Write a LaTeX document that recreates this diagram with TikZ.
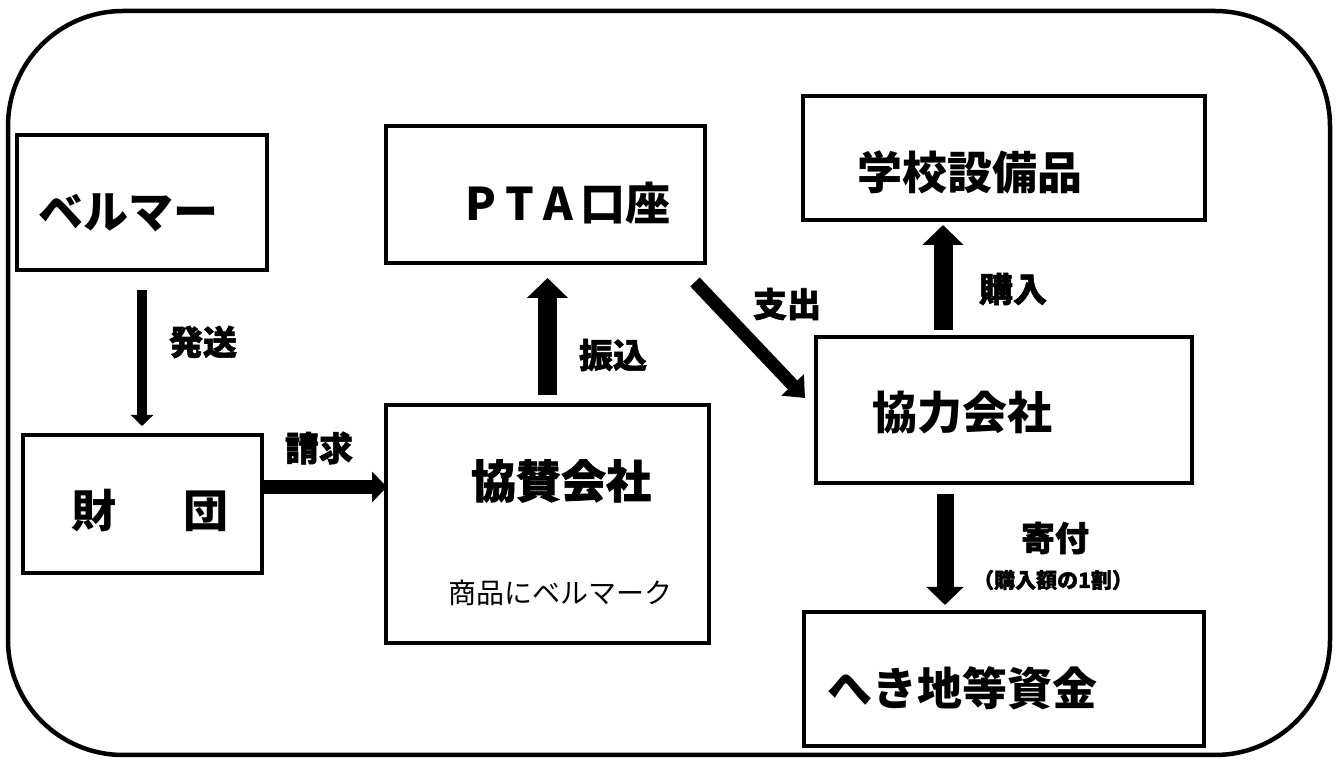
\documentclass[tikz,border=0pt]{standalone}
\usepackage{fontspec}
\setmainfont{Noto Sans CJK JP}
\newfontfamily\jpheavy{Noto Sans CJK JP}[BoldFeatures={FakeBold=1.6}]
\usetikzlibrary{arrows.meta}

\tikzset{
  frame/.style={draw, line width=4.5pt, rounded corners=115pt},
  box/.style={draw, line width=4pt, rectangle, inner sep=0pt},
  boxtext/.style={font=\bfseries\fontsize{45}{50}\selectfont, inner sep=0pt},
  flowlabel/.style={font=\jpheavy\bfseries\fontsize{34}{40}\selectfont, inner sep=0pt},
  thinflow/.style={line width=10pt, -{Triangle[width=22pt,length=11pt]}},
  midflow/.style={line width=14pt, -{Triangle[width=30pt,length=15pt]}},
  thickflow/.style={line width=19pt, -{Triangle[width=40pt,length=20pt]}}
}

\begin{document}
\begin{tikzpicture}[x=1pt, y=1pt]
  \useasboundingbox (0,0) rectangle (1336,760);
  \draw[frame] (8,5) rectangle (1330,749);

  % boxes
  \node[box, minimum width=250pt, minimum height=135pt] (bellmark) at (142,557.5) {};
  \node[box, minimum width=239pt, minimum height=138pt] (zaidan) at (142.5,256) {};
  \node[box, minimum width=323pt, minimum height=238pt] (kyosan) at (547.5,236) {};
  \node[box, minimum width=319pt, minimum height=137pt] (pta) at (545.5,565.5) {};
  \node[box, minimum width=402pt, minimum height=124pt] (gakko) at (1004,602) {};
  \node[box, minimum width=376pt, minimum height=146pt] (kyoryoku) at (1004,350) {};
  \node[box, minimum width=400pt, minimum height=134pt] (hekichi) at (1004,81) {};

  % box texts
  \node[boxtext] (bellmarktxt) at (128,547) {ベルマー};
  \node[boxtext] (zaidantxt) at (150,249) {財\hspace{67pt}団};
  \node[boxtext] (ptatxt) at (568,557) {P\hspace{9pt}T\hspace{9pt}A\hspace{7pt}口座};
  \node[boxtext] (gakkotxt) at (970,588) {学校設備品};
  \node[boxtext] (kyoryokutxt) at (962,347) {協力会社};
  \node[boxtext] (hekichitxt) at (962,72) {へき地等資金};
  \node[boxtext, font=\jpheavy\bfseries\fontsize{45}{50}\selectfont] (kyosantxt) at (561,279) {協賛会社};
  \node[boxtext, font=\fontsize{28}{32}\selectfont] (kyosansub) at (560,167) {商品にベルマーク};

  % flows
  \draw[thinflow, shorten <=18pt, shorten >=7pt] (bellmark.south) -- (bellmark.south |- zaidan.north);
  \draw[midflow] ([yshift=17pt]zaidan.east) -- ([yshift=17pt, xshift=3pt]zaidan.east -| kyosan.west);
  \draw[thickflow, shorten <=8pt, shorten >=13pt] (kyosan.north) -- (kyosan.north |- pta.south);
  \draw[line width=13pt, -{Triangle[width=30pt,length=18pt]}]
    ([shift={(-12pt,-17pt)}]pta.south east) -- ([shift={(-9pt,-63pt)}]kyoryoku.north west);
  \draw[thickflow, shorten <=5pt, shorten >=3pt] ([xshift=-61pt]kyoryoku.north) -- ([xshift=-61pt]gakko.south);
  \draw[line width=17pt, -{Triangle[width=36pt,length=18pt]}, shorten <=9pt, shorten >=5pt]
    ([xshift=-59pt]kyoryoku.south) -- ([xshift=-59pt]hekichi.north);

  % flow labels
  \node[flowlabel] (hassou) at (203,418) {発送};
  \node[flowlabel] (seikyu) at (319,312) {請求};
  \node[flowlabel] (furikomi) at (613,405) {振込};
  \node[flowlabel] (shishutsu) at (787,456) {支出};
  \node[flowlabel] (konyu) at (1013,471) {購入};
  \node[flowlabel] (kifu) at (1055,222) {寄付};
  \node[flowlabel, font=\jpheavy\bfseries\fontsize{21}{24}\selectfont] (kifusub) at (1053,180) {（購入額の1割）};
\end{tikzpicture}
\end{document}
